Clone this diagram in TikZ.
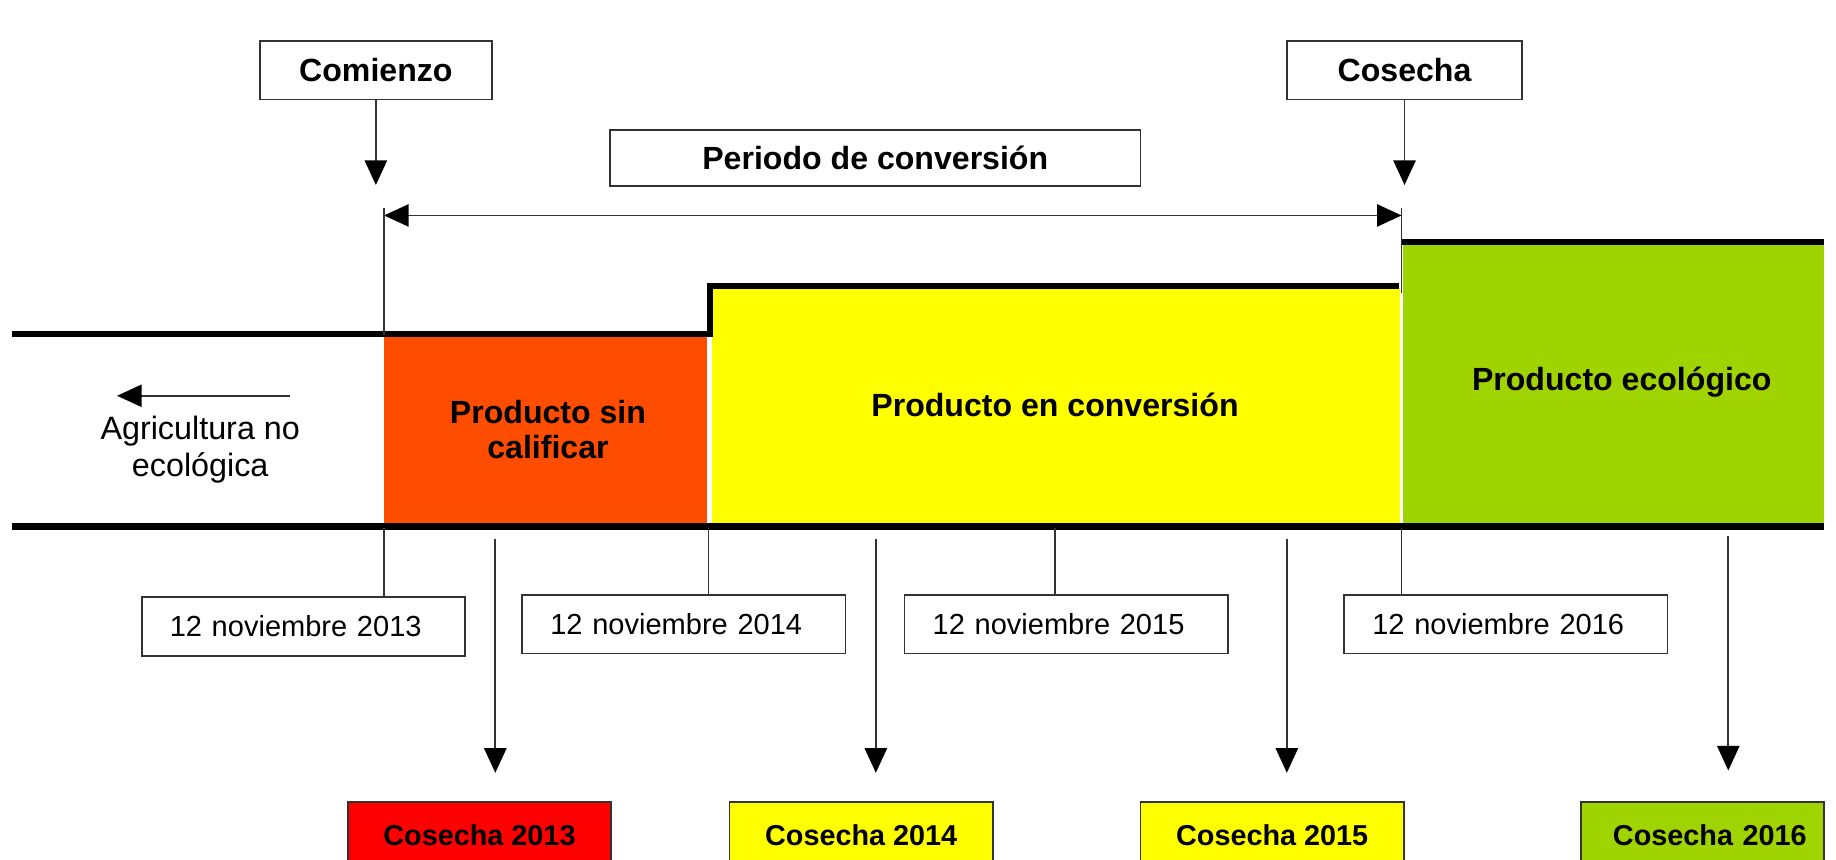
\documentclass[tikz,border=0pt]{standalone}
\usepackage{fontspec}
\setmainfont{Liberation Sans}
\usetikzlibrary{arrows.meta}
\definecolor{redor}{HTML}{FF4D00}
\definecolor{yel}{HTML}{FFFF00}
\definecolor{grn}{HTML}{A0D400}
\definecolor{pured}{HTML}{FF0000}
\definecolor{edge}{HTML}{333333}
\begin{document}
\begin{tikzpicture}[x=0.5pt, y=-0.5pt,
  thinln/.style={draw=edge, line width=0.75pt},
  tip/.tip={Triangle[length=10.5pt,width=9.5pt,fill=black,color=black]},
  arr/.style={thinln, -tip},
  darr/.style={thinln, tip-tip},
  thickln/.style={line width=2.6pt, line join=miter},
  topbox/.style={draw=edge, line width=0.75pt, fill=white, inner sep=0pt,
    font=\fontsize{13.7}{16}\selectfont\bfseries, minimum height=25pt},
  datebox/.style={draw=edge, line width=0.75pt, fill=white, inner xsep=12pt, inner ysep=0pt,
    text width=114pt, align=left, minimum height=25pt,
    font=\fontsize{12.4}{15}\selectfont},
  harv/.style={draw=edge, line width=0.75pt, inner sep=0pt, minimum width=112.5pt,
    minimum height=28pt, font=\fontsize{12.3}{15}\selectfont\bfseries},
  lbl/.style={align=center, font=\fontsize{13.7}{15}\selectfont\bfseries},
  reg/.style={align=center, font=\fontsize{13.8}{16}\selectfont}]
\path[use as bounding box, clip] (0,0) rectangle (1568,734);
% coloured regions
\fill[redor] (328,287) rectangle (604,448);
\fill[yel] (608,246) rectangle (1196,448);
\fill[grn] (1198,209) rectangle (1558,448);
% thick outline lines
\draw[thickln] (10,285) -- (606,285) -- (606,244) -- (1195,244);
\draw[thickln] (1197,207) -- (1558,207);
\draw[line width=3pt] (10,450) -- (1558,450);
% top boxes
\node[topbox, minimum width=99pt] (com) at (321,60) {Comienzo};
\node[topbox, minimum width=100.5pt] (cos) at (1199.5,60) {Cosecha};
\node[topbox, minimum width=226.5pt, minimum height=24pt] (per) at (747.5,135) {Periodo de conversión};
\coordinate (comT) at (321,158);
\coordinate (cosT) at (1199.5,158);
\draw[arr] (com) -- (comT);
\draw[arr] (cos) -- (cosT);
% conversion period span
\coordinate (pL) at (328,184);
\coordinate (pR) at (1197,184);
\draw[darr] (pL) -- (pR);
\coordinate (vL1) at (328,178);
\coordinate (vL2) at (328,286);
\coordinate (vR1) at (1197,178);
\coordinate (vR2) at (1197,250);
\draw[thinln] (vL1) -- (vL2);
\draw[thinln] (vR1) -- (vR2);
% region labels
\node[lbl] (psc) at (468,367) {Producto sin\\calificar};
\node[lbl] (pec) at (901,346) {Producto en conversión};
\node[lbl] (peco) at (1385,326) {Producto ecológico};
\node[reg] (agr) at (171,384) {Agricultura no\\ecológica};
\coordinate (aS) at (248,338);
\coordinate (aE) at (100,338);
\draw[arr] (aS) -- (aE);
% date boxes
\node[datebox] (d13) at (259,535) {12 noviembre 2013};
\node[datebox] (d14) at (584,533) {12 noviembre 2014};
\node[datebox] (d15) at (910.5,533) {12 noviembre 2015};
\node[datebox] (d16) at (1286,533) {12 noviembre 2016};
\coordinate (t13) at (328,451);
\coordinate (t14) at (605,451);
\coordinate (t15) at (901,451);
\coordinate (t16) at (1197,451);
\draw[thinln] (t13) -- (t13 |- d13.north);
\draw[thinln] (t14) -- (t14 |- d14.north);
\draw[thinln] (t15) -- (t15 |- d15.north);
\draw[thinln] (t16) -- (t16 |- d16.north);
% harvest arrows
\coordinate (h13s) at (423,460); \coordinate (h13e) at (423,660);
\coordinate (h14s) at (748,460); \coordinate (h14e) at (748,660);
\coordinate (h15s) at (1099,460); \coordinate (h15e) at (1099,660);
\coordinate (h16s) at (1476,458); \coordinate (h16e) at (1476,658);
\draw[arr] (h13s) -- (h13e);
\draw[arr] (h14s) -- (h14e);
\draw[arr] (h15s) -- (h15e);
\draw[arr] (h16s) -- (h16e);
% harvest boxes
\node[harv, fill=pured] (c13) at (409.5,713) {Cosecha 2013};
\node[harv, fill=yel] (c14) at (735.5,713) {Cosecha 2014};
\node[harv, fill=yel] (c15) at (1086.5,713) {Cosecha 2015};
\node[harv, fill=grn, minimum width=104pt, text width=89pt, align=right, inner xsep=7.5pt] (c16) at (1454,713) {Cosecha 2016};
\end{tikzpicture}
\end{document}
